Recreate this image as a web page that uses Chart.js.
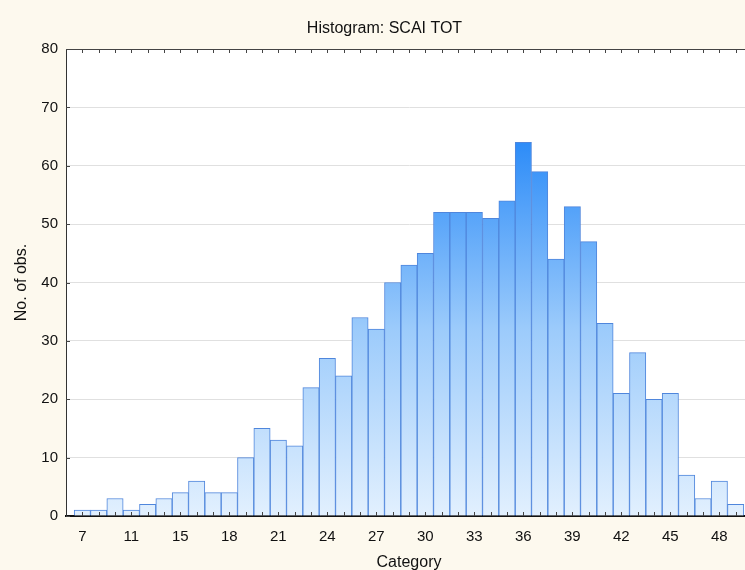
<!DOCTYPE html>
<html>
<head>
<meta charset="utf-8">
<title>Histogram: SCAI TOT</title>
<script src="https://cdn.jsdelivr.net/npm/chart.js@4.4.1/dist/chart.umd.min.js"></script>
<style>
  html, body { margin: 0; padding: 0; background: #fdf9ee; }
  #wrap { width: 745px; height: 570px; overflow: hidden; }
  #box { width: 769px; height: 570px; }
</style>
</head>
<body>
<div id="wrap"><div id="box"><canvas id="histChart" width="769" height="570"></canvas></div></div>
<script>
// Histogram counts, one per bin (left to right)
const counts = [1, 1, 3, 1, 2, 3, 4, 6, 4, 4, 10, 15, 13, 12, 22, 27, 24, 34, 32, 40, 43,
                45, 52, 52, 52, 51, 54, 64, 59, 44, 53, 47, 33, 21, 28, 20, 21, 7, 3, 6, 2];
// Category labels shown under every third bin, starting with the first
const tickLabels = ['7', '11', '15', '18', '21', '24', '27', '30', '33', '36', '39', '42', '45', '48'];
const yTicks = [0, 10, 20, 30, 40, 50, 60, 70, 80];

const FONT = "'Liberation Sans', Arial, Helvetica, sans-serif";

// white plot area + small inward tick marks like the original
const plotDecor = {
    id: 'plotDecor',
    beforeDraw(chart) {
        const { ctx, chartArea: a } = chart;
        ctx.save();
        ctx.fillStyle = '#ffffff';
        ctx.fillRect(a.left, a.top, a.right - a.left, a.bottom - a.top);
        ctx.restore();
    },
    afterDraw(chart) {
        const { ctx, chartArea: a, scales } = chart;
        ctx.save();
        ctx.strokeStyle = '#444';
        ctx.lineWidth = 1;
        ctx.beginPath();
        // top + right frame
        ctx.moveTo(a.left, a.top + 0.5);
        ctx.lineTo(a.right, a.top + 0.5);
        ctx.moveTo(a.right - 0.5, a.top);
        ctx.lineTo(a.right - 0.5, a.bottom);
        // ticks at bin centres, bottom and top
        counts.forEach((_, i) => {
            const x = Math.round(scales.x.getPixelForValue(i + 1)) + 0.5;
            ctx.moveTo(x, a.bottom);
            ctx.lineTo(x, a.bottom - 4);
            ctx.moveTo(x, a.top);
            ctx.lineTo(x, a.top + 4);
        });
        // y ticks
        yTicks.forEach(v => {
            const y = Math.round(scales.y.getPixelForValue(v)) + 0.5;
            ctx.moveTo(a.left, y);
            ctx.lineTo(a.left + 4, y);
        });
        ctx.stroke();
        ctx.restore();
    }
};

function barGradient(context) {
    const chart = context.chart;
    const a = chart.chartArea;
    if (!a) return '#9fcdfb';
    const g = chart.ctx.createLinearGradient(0, a.bottom, 0, a.top);
    g.addColorStop(0, '#e2f0fe');
    g.addColorStop(0.4, '#9ccbfb');
    g.addColorStop(0.8, '#2d8cf8');
    g.addColorStop(1, '#1a7ef5');
    return g;
}

const ctx = document.getElementById('histChart').getContext('2d');
const histChart = new Chart(ctx, {
    type: 'bar',
    data: {
        datasets: [{
            label: 'No. of obs.',
            data: counts.map((c, i) => ({ x: i + 1, y: c })),
            backgroundColor: barGradient,
            borderColor: '#4f86dc',
            borderWidth: 1,
            barPercentage: 1,
            categoryPercentage: 1,
        }]
    },
    options: {
        responsive: false,
        animation: false,
        devicePixelRatio: 1,
        layout: { padding: { left: 17, right: 17, top: 0, bottom: 0 } },
        scales: {
            x: {
                type: 'linear',
                offset: false,
                min: 0,
                max: 42,
                afterFit(scale) { scale.height = 54; },
                afterBuildTicks(scale) {
                    scale.ticks = tickLabels.map((_, i) => ({ value: 1 + 3 * i }));
                },
                ticks: {
                    autoSkip: false,
                    maxRotation: 0,
                    padding: 12,
                    color: '#111',
                    font: { family: FONT, size: 15 },
                    callback: (v) => tickLabels[(v - 1) / 3]
                },
                grid: { display: false, drawTicks: false },
                border: { display: true, color: '#111', width: 2 },
                title: {
                    display: true,
                    text: 'Category',
                    color: '#111',
                    font: { family: FONT, size: 16 },
                    padding: { top: 0, bottom: -2 }
                }
            },
            y: {
                min: 0,
                max: 80,
                afterFit(scale) { scale.width = 49; },
                afterBuildTicks(scale) {
                    scale.ticks = yTicks.map(v => ({ value: v }));
                },
                ticks: {
                    padding: 8,
                    color: '#111',
                    font: { family: FONT, size: 15 }
                },
                grid: { color: '#e0e0e0', drawTicks: false },
                border: { display: true, color: '#333', width: 1 },
                title: {
                    display: true,
                    text: 'No. of obs.',
                    color: '#111',
                    font: { family: FONT, size: 16 },
                    padding: { top: -5, bottom: 0 }
                }
            }
        },
        plugins: {
            legend: { display: false },
            tooltip: { enabled: false },
            title: {
                display: true,
                text: 'Histogram: SCAI TOT',
                color: '#111',
                font: { family: FONT, size: 16, weight: 'normal' },
                padding: { top: 19.4, bottom: 10.4 }
            }
        }
    },
    plugins: [plotDecor]
});
</script>
</body>
</html>
